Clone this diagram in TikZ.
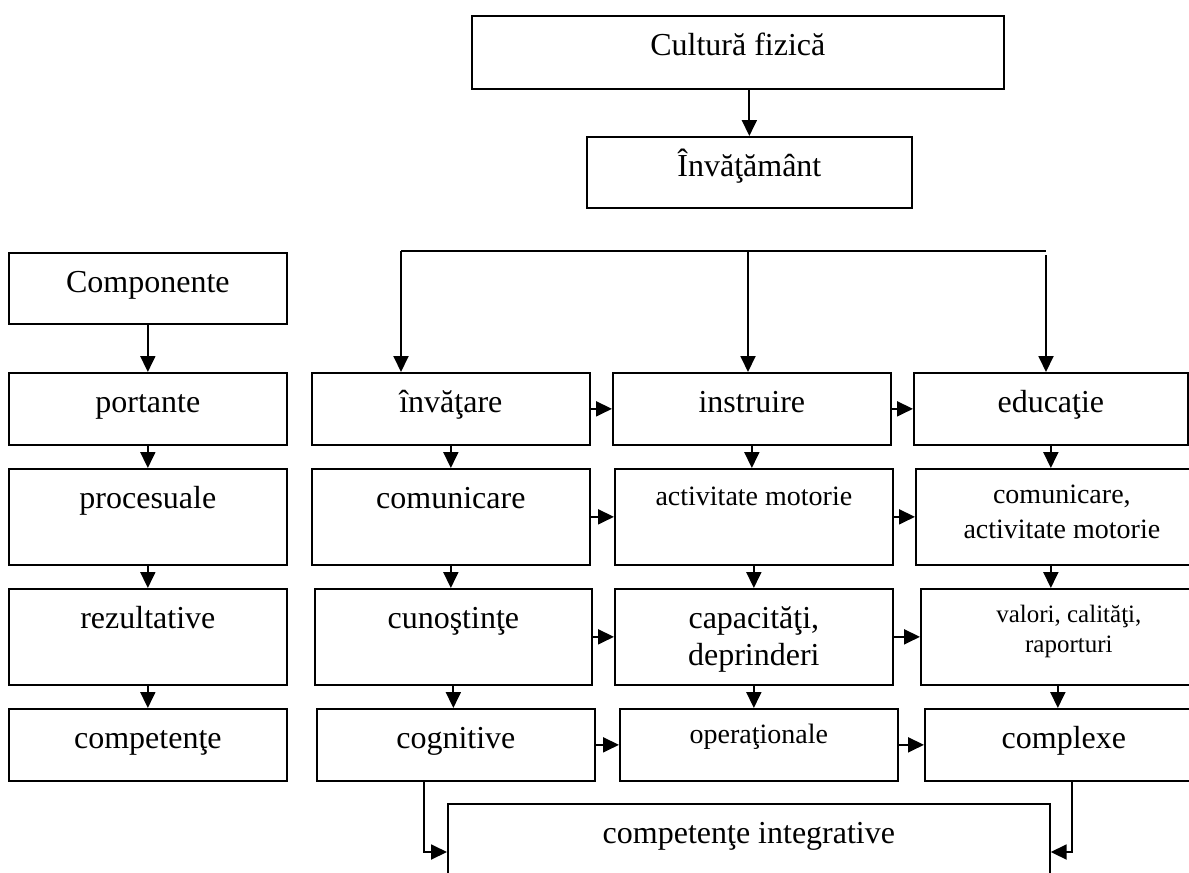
\documentclass[tikz,border=0pt]{standalone}
\usepackage{fontspec}
\setmainfont{Liberation Serif}
\usepackage{tikz}
\usetikzlibrary{positioning,arrows.meta}

\begin{document}
\begin{tikzpicture}[x=1pt,y=-1pt,
	box/.style={draw, line width=1.7pt, anchor=north west, inner sep=0pt, align=center,
		text height=40pt, font=\fontsize{32}{37}\selectfont},
	low/.style={text depth=32pt},
	high/.style={text depth=56pt},
	arr/.style={line width=1.9pt, -{Triangle[length=16pt,width=15pt]}}]
	\useasboundingbox (0,0) rectangle (1189,873);
	% top
	\node[box, minimum width=532pt, text depth=33pt] (cult) at (471,15) {Cultură fizică};
	\node[box, minimum width=325pt, text depth=31pt] (invat) at (586,136) {Învăţământ};
	\node[box, minimum width=278pt, text depth=31pt] (comp) at (8,252) {Componente};
	% column 1
	\node[box, low, minimum width=278pt] (port) at (8,372) {portante};
	\node[box, high, minimum width=278pt] (proc) at (8,468) {procesuale};
	\node[box, high, minimum width=278pt] (rez) at (8,588) {rezultative};
	\node[box, low, minimum width=278pt] (compt) at (8,708) {competenţe};
	% column 2
	\node[box, low, minimum width=278pt] (inv) at (311,372) {învăţare};
	\node[box, high, minimum width=278pt] (comu) at (311,468) {comunicare};
	\node[box, high, minimum width=277pt] (cuno) at (314,588) {cunoştinţe};
	\node[box, low, minimum width=278pt] (cogn) at (316,708) {cognitive};
	% column 3
	\node[box, low, minimum width=278pt] (instr) at (612,372) {instruire};
	\node[box, minimum width=278pt, text height=37pt, text depth=59pt,
		font=\fontsize{28}{34}\selectfont] (act) at (614,468) {activitate motorie};
	\node[box, minimum width=278pt, text height=77pt, text depth=19pt] (cap) at (614,588) {capacităţi,\\deprinderi};
	\node[box, minimum width=278pt, text height=35pt, text depth=37pt,
		font=\fontsize{28}{34}\selectfont] (oper) at (619,708) {operaţionale};
	% column 4
	\node[box, low, minimum width=274pt] (educ) at (913,372) {educaţie};
	\node[box, minimum width=292pt, text height=70pt, text depth=26pt,
		font=\fontsize{28}{35}\selectfont] (comact) at (915,468) {comunicare,\\activitate motorie};
	\node[box, minimum width=296pt, text height=64pt, text depth=32pt,
		font=\fontsize{25}{30}\selectfont] (val) at (920,588) {valori, calităţi,\\raporturi};
	\node[box, low, minimum width=278pt] (cplx) at (924,708) {complexe};
	% bottom
	\node[box, minimum width=602pt, text depth=60pt] (integ) at (447,803) {competenţe integrative};

	\draw[arr] (invat.north |- cult.south) -- (invat.north);
	% branching line
	\coordinate (bl) at (401,251);
	\coordinate (bm) at (748,251);
	\coordinate (br) at (1046,251);
	\draw[line width=1.7pt] (bl) -- (br);
	\draw[arr] (bl) -- (bl |- inv.north);
	\draw[arr] (bm) -- (bm |- instr.north);
	\draw[arr] ([yshift=-4pt]br) -- (br |- educ.north);

	% vertical arrows
	\foreach \a/\b in {comp/port, port/proc, proc/rez, rez/compt, inv/comu, comu/cuno, cuno/cogn, instr/act, act/cap, cap/oper, educ/comact}
	{ \draw[arr] (\a.south) -- (\a.south |- \b.north);
	}
	\draw[arr] (comact.south -| educ) -- (educ |- val.north);
	\draw[arr] ([xshift=-11pt]val.south) -- ([xshift=-11pt]val.south |- cplx.north);

	% horizontal arrows
	\foreach \a/\b in {inv/instr, instr/educ, comu/act, act/comact, cuno/cap, cap/val, cogn/oper, oper/cplx}
	{ \draw[arr] (\a.east) -- (\a.east -| \b.west);
	}

	\draw[arr] ([xshift=108pt]cogn.south west) |- ([yshift=-49pt]integ.north west);
	\draw[arr] ([xshift=148pt]cplx.south west) |- ([yshift=-49pt]integ.north east);
\end{tikzpicture}
\end{document}
